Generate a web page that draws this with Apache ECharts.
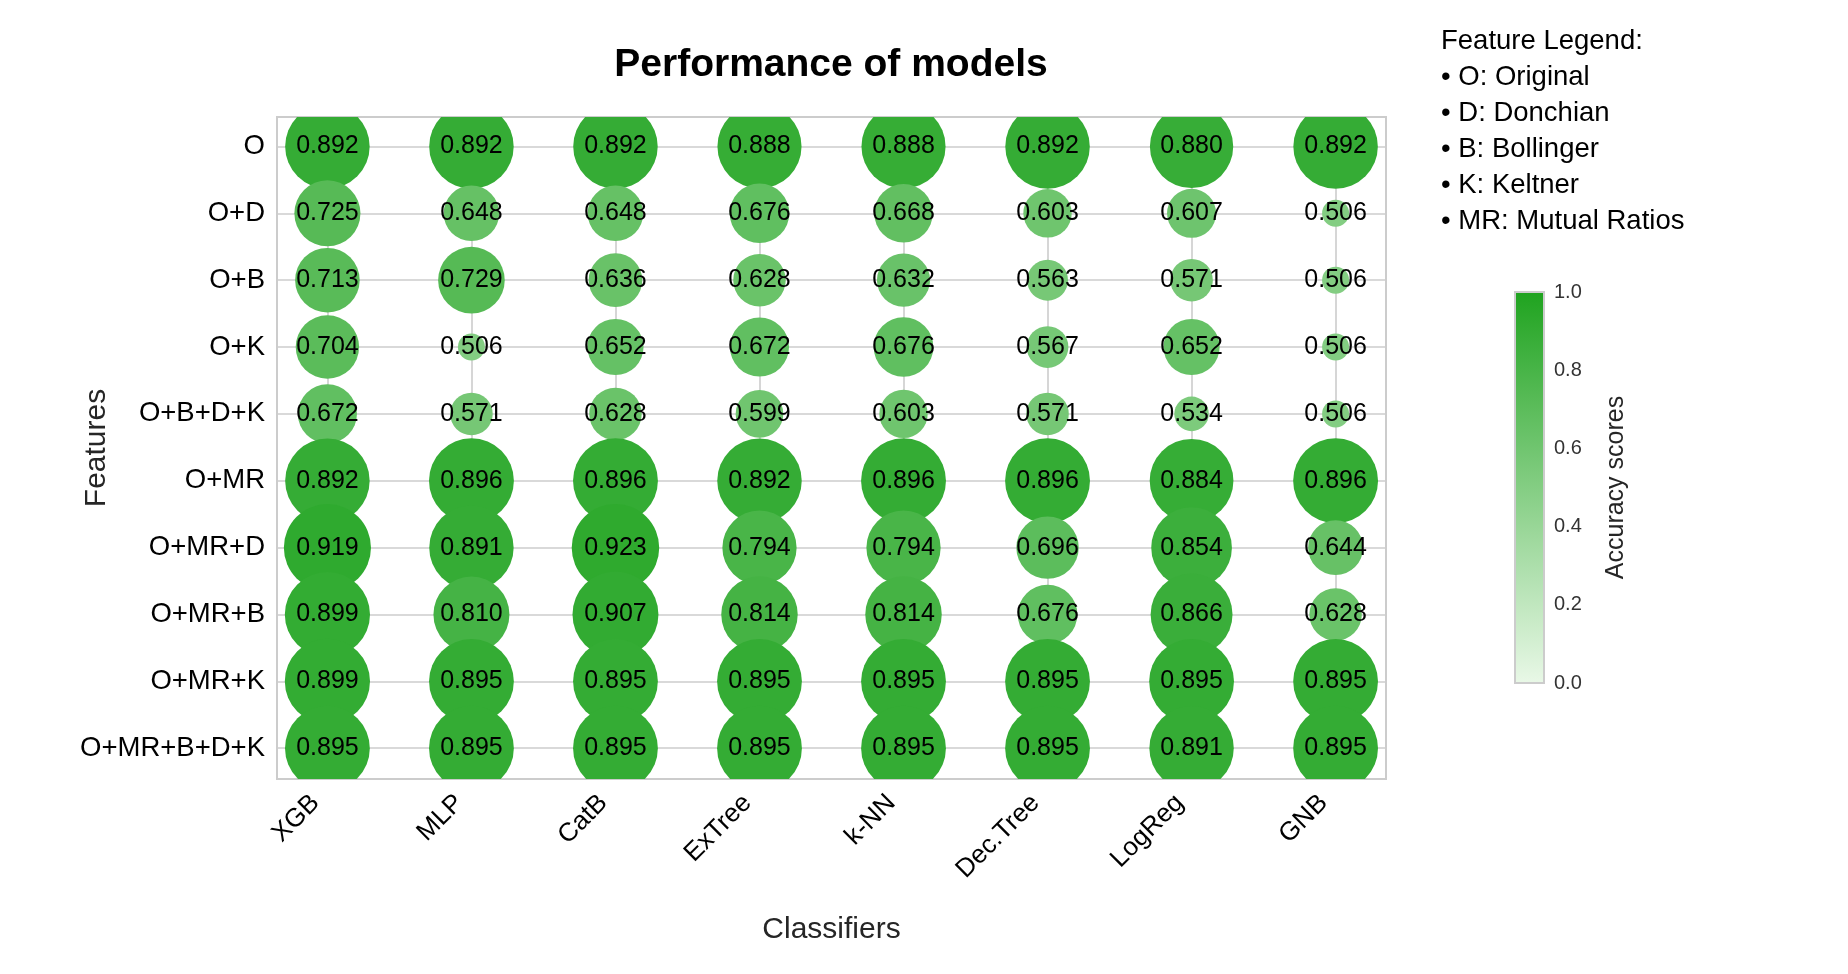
<!DOCTYPE html>
<html>
<head>
<meta charset="utf-8">
<script src="https://cdn.jsdelivr.net/npm/echarts@6/dist/echarts.min.js"></script>
<style>
html,body{margin:0;padding:0;background:#fff;}
#chart{width:1848px;height:974px;}
</style>
</head>
<body>
<div id="chart"></div>
<script>
// ---- data ----
const classifiers = ['XGB', 'MLP', 'CatB', 'ExTree', 'k-NN', 'Dec.Tree', 'LogReg', 'GNB'];
const features = ['O', 'O+D', 'O+B', 'O+K', 'O+B+D+K', 'O+MR', 'O+MR+D', 'O+MR+B', 'O+MR+K', 'O+MR+B+D+K'];
const scoresXGB     = [0.892, 0.725, 0.713, 0.704, 0.672, 0.892, 0.919, 0.899, 0.899, 0.895];
const scoresMLP     = [0.892, 0.648, 0.729, 0.506, 0.571, 0.896, 0.891, 0.810, 0.895, 0.895];
const scoresCatB    = [0.892, 0.648, 0.636, 0.652, 0.628, 0.896, 0.923, 0.907, 0.895, 0.895];
const scoresExTree  = [0.888, 0.676, 0.628, 0.672, 0.599, 0.892, 0.794, 0.814, 0.895, 0.895];
const scoresKNN     = [0.888, 0.668, 0.632, 0.676, 0.603, 0.896, 0.794, 0.814, 0.895, 0.895];
const scoresDecTree = [0.892, 0.603, 0.563, 0.567, 0.571, 0.896, 0.696, 0.676, 0.895, 0.895];
const scoresLogReg  = [0.880, 0.607, 0.571, 0.652, 0.534, 0.884, 0.854, 0.866, 0.895, 0.891];
const scoresGNB     = [0.892, 0.506, 0.506, 0.506, 0.506, 0.896, 0.644, 0.628, 0.895, 0.895];
const colorbarTicks = [0, 0.2, 0.4, 0.6, 0.8, 1.0];
const legendLines = ['Feature Legend:', '• O: Original', '• D: Donchian', '• B: Bollinger', '• K: Keltner', '• MR: Mutual Ratios'];

// ---- styling constants ----
const FONT = "'Liberation Sans', Arial, sans-serif";
const COLOR_LOW = '#e9f8e7';
const COLOR_HIGH = '#1fa31f';
const D_MIN = 27, D_MAX = 87.5;   // bubble diameters (px) for smallest / largest score
const GRID_COLOR = '#cccccc';

const scoreColumns = [scoresXGB, scoresMLP, scoresCatB, scoresExTree, scoresKNN, scoresDecTree, scoresLogReg, scoresGNB];
const points = [];
features.forEach((f, fi) => {
  classifiers.forEach((c, ci) => {
    points.push([ci, fi, scoreColumns[ci][fi]]);
  });
});
const allVals = points.map(p => p[2]);
const vMin = Math.min(...allVals), vMax = Math.max(...allVals);
function diameter(v) {
  const t = (v - vMin) / (vMax - vMin);
  return Math.sqrt(D_MIN * D_MIN + t * (D_MAX * D_MAX - D_MIN * D_MIN));
}

const chart = echarts.init(document.getElementById('chart'), null, {renderer: 'canvas'});
const option = {
  backgroundColor: '#ffffff',
  animation: false,
  textStyle: {fontFamily: FONT},
  title: [
    {
      text: 'Performance of models',
      left: 831, top: 45, textAlign: 'center', padding: 0,
      textStyle: {fontFamily: FONT, fontSize: 39, fontWeight: 'bold', color: '#000', lineHeight: 40}
    },
    {
      text: legendLines.join('\n'),
      left: 1441, top: 23.5, padding: 0,
      textStyle: {fontFamily: FONT, fontSize: 27.5, fontWeight: 'normal', color: '#000', lineHeight: 36}
    }
  ],
  grid: [
    {left: 277, top: 117, width: 1109, height: 662, show: true, borderColor: GRID_COLOR, borderWidth: 2,
     backgroundColor: 'transparent', containLabel: false, outerBoundsMode: 'none'},
    {left: 1515, top: 292, width: 29, height: 391, show: true, borderColor: GRID_COLOR, borderWidth: 2,
     containLabel: false, outerBoundsMode: 'none',
     backgroundColor: {type: 'linear', x: 0, y: 0, x2: 0, y2: 1,
       colorStops: [{offset: 0, color: COLOR_HIGH}, {offset: 1, color: COLOR_LOW}]}}
  ],
  xAxis: [
    {
      gridIndex: 0, type: 'value', min: -0.35, max: 7.35,
      name: 'Classifiers', nameLocation: 'middle', nameGap: 150.5, nameMoveOverlap: false,
      nameTextStyle: {fontFamily: FONT, fontSize: 30, color: '#262626', verticalAlign: 'middle'},
      axisLine: {show: false},
      axisTick: {show: false, customValues: classifiers.map((_, i) => i)},
      axisLabel: {
        customValues: classifiers.map((_, i) => i),
        formatter: v => classifiers[Math.round(v)] || '',
        rotate: 45, margin: 8, padding: [0, 17, 0, 0], fontFamily: FONT, fontSize: 26, color: '#000'
      },
      splitLine: {show: true, lineStyle: {color: GRID_COLOR, width: 1.6}}
    },
    {gridIndex: 1, type: 'value', min: 0, max: 1, show: false}
  ],
  yAxis: [
    {
      gridIndex: 0, type: 'value', inverse: true, min: -0.44, max: 9.46,
      name: 'Features', nameLocation: 'middle', nameGap: 180.5, nameRotate: 90, nameMoveOverlap: false,
      nameTextStyle: {fontFamily: FONT, fontSize: 30, color: '#262626', verticalAlign: 'middle'},
      axisLine: {show: false},
      axisTick: {show: false, customValues: features.map((_, i) => i)},
      axisLabel: {
        customValues: features.map((_, i) => i),
        formatter: v => features[Math.round(v)] || '',
        margin: 12, padding: [4, 0, 0, 0], fontFamily: FONT, fontSize: 27.5, color: '#000'
      },
      splitLine: {show: true, lineStyle: {color: GRID_COLOR, width: 1.6}}
    },
    {
      gridIndex: 1, type: 'value', min: 0, max: 1, position: 'right',
      name: 'Accuracy scores', nameLocation: 'middle', nameGap: 72, nameRotate: 90, nameMoveOverlap: false,
      nameTextStyle: {fontFamily: FONT, fontSize: 25, color: '#262626', verticalAlign: 'middle'},
      axisLine: {show: false},
      axisTick: {show: false, customValues: colorbarTicks},
      axisLabel: {customValues: colorbarTicks, formatter: v => v.toFixed(1), margin: 10,
                  fontFamily: FONT, fontSize: 20, color: '#333'},
      splitLine: {show: false}
    }
  ],
  visualMap: {
    show: false, type: 'continuous', min: 0, max: 1, dimension: 2, seriesIndex: 0,
    inRange: {color: [COLOR_LOW, COLOR_HIGH]}
  },
  series: [
    {
      type: 'custom',
      xAxisIndex: 0, yAxisIndex: 0,
      clip: true,
      encode: {x: 0, y: 1},
      data: points,
      renderItem: function (params, api) {
        const v = api.value(2);
        const pt = api.coord([api.value(0), api.value(1)]);
        const r = diameter(v) / 2;
        return {
          type: 'group',
          children: [
            {type: 'circle', shape: {cx: pt[0], cy: pt[1], r: r}, style: {fill: api.visual('color')}},
            {type: 'text', x: pt[0], y: pt[1],
             style: {text: v.toFixed(3), fill: '#000', align: 'center', verticalAlign: 'middle',
                     font: '25px ' + FONT}}
          ]
        };
      }
    }
  ]
};
chart.setOption(option);
</script>
</body>
</html>
